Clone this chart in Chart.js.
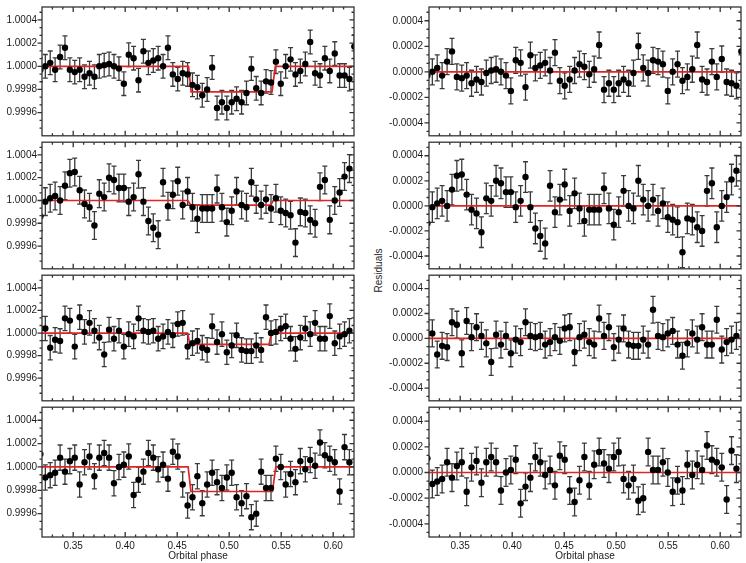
<!DOCTYPE html>
<html>
<head>
<meta charset="utf-8">
<script src="https://cdn.jsdelivr.net/npm/chart.js@4.4.1/dist/chart.umd.min.js"></script>
<style>
  body { margin: 0; background: #fff; }
  #page { position: relative; width: 746px; height: 563px; overflow: hidden; background: #fff; }
  #page canvas { position: absolute; }
  #resid {
    position: absolute; left: 338px; top: 265px; width: 80px; text-align: center;
    transform: rotate(-90deg); transform-origin: 50% 50%;
    font: 10px "Liberation Sans", Arial, Helvetica, sans-serif; color: #222;
  }
</style>
</head>
<body>
<div id="page">
  <div id="resid">Residuals</div>
</div>
<script>
// orbital phase of each exposure (first and last ones sit on the plot edges)
const phase = [0.3185, 0.3232, 0.3279, 0.3326, 0.3374, 0.3421, 0.3468, 0.3515, 0.3562, 0.3609,
  0.3657, 0.3704, 0.3751, 0.3798, 0.3845, 0.3892, 0.3940, 0.3987, 0.4034, 0.4081,
  0.4128, 0.4175, 0.4223, 0.4270, 0.4317, 0.4364, 0.4411, 0.4458, 0.4505, 0.4553,
  0.4600, 0.4647, 0.4694, 0.4741, 0.4788, 0.4836, 0.4883, 0.4930, 0.4977, 0.5024,
  0.5071, 0.5119, 0.5166, 0.5213, 0.5260, 0.5307, 0.5354, 0.5402, 0.5449, 0.5496,
  0.5543, 0.5590, 0.5637, 0.5684, 0.5732, 0.5779, 0.5826, 0.5873, 0.5920, 0.5967,
  0.6015, 0.6062, 0.6109, 0.6156, 0.6203]

// normalised flux, one list per channel (rows top to bottom)
const flux1 = [0.99997, 1.00000, 1.00003, 0.99997, 1.00008, 1.00016, 0.99997, 0.99995, 0.99997, 0.99991,
  0.99994, 0.99991, 1.00000, 1.00001, 1.00002, 1.00000, 0.99998, 0.99985, 1.00010, 1.00007,
  0.99988, 1.00013, 1.00003, 1.00005, 1.00007, 1.00000, 1.00016, 0.99993, 0.99989, 0.99994,
  0.99993, 0.99984, 0.99982, 0.99975, 0.99980, 0.99999, 0.99964, 0.99969, 0.99964, 0.99969,
  0.99972, 0.99969, 0.99977, 0.99998, 0.99981, 0.99977, 0.99987, 0.99986, 1.00004, 0.99985,
  1.00000, 1.00006, 0.99993, 0.99996, 1.00002, 1.00021, 0.99994, 0.99992, 1.00007, 0.99996,
  1.00011, 0.99992, 0.99992, 0.99989, 1.00017]
const flux2 = [0.99986, 0.99999, 1.00002, 1.00004, 1.00000, 1.00013, 1.00024, 1.00025, 1.00009, 0.99997,
  0.99994, 0.99978, 1.00006, 1.00003, 1.00020, 1.00018, 1.00011, 1.00011, 0.99999, 1.00003,
  1.00023, 0.99999, 0.99982, 0.99976, 0.99970, 1.00016, 0.99995, 1.00005, 1.00017, 0.99996,
  1.00008, 0.99994, 0.99984, 0.99993, 0.99993, 0.99993, 1.00010, 0.99994, 0.99981, 0.99991,
  1.00008, 0.99996, 0.99994, 1.00016, 1.00001, 0.99996, 1.00001, 0.99993, 1.00002, 0.99991,
  0.99989, 0.99987, 0.99963, 0.99990, 0.99989, 0.99983, 0.99980, 1.00012, 1.00018, 0.99983,
  1.00000, 1.00007, 1.00021, 1.00028]
const flux3 = [1.00004, 1.00004, 0.99987, 0.99994, 0.99993, 1.00013, 1.00011, 0.99988, 1.00014, 1.00001,
  1.00009, 1.00002, 0.99996, 0.99981, 1.00003, 0.99995, 1.00002, 0.99988, 0.99999, 0.99997,
  1.00013, 1.00002, 1.00001, 1.00002, 0.99995, 0.99997, 1.00001, 0.99998, 1.00008, 1.00009,
  0.99988, 0.99991, 0.99993, 0.99987, 0.99985, 1.00006, 0.99992, 0.99999, 0.99983, 0.99989,
  0.99998, 0.99985, 0.99984, 0.99984, 0.99989, 0.99985, 1.00014, 1.00000, 1.00001, 1.00004,
  1.00006, 0.99995, 0.99986, 0.99996, 1.00004, 0.99999, 1.00009, 0.99995, 0.99995, 1.00015,
  0.99991, 0.99997, 0.99999, 1.00002]
const flux4 = [1.00011, 0.99991, 0.99993, 0.99995, 1.00008, 0.99996, 1.00005, 1.00008, 0.99985, 1.00004,
  1.00009, 0.99992, 1.00008, 1.00012, 1.00008, 0.99986, 1.00000, 1.00002, 1.00009, 0.99976,
  0.99989, 0.99996, 1.00012, 1.00008, 0.99998, 1.00002, 0.99990, 1.00013, 1.00009, 0.99985,
  0.99967, 0.99974, 0.99992, 0.99969, 0.99985, 0.99995, 0.99987, 0.99982, 0.99991, 0.99995,
  0.99974, 0.99969, 0.99975, 0.99957, 0.99960, 0.99996, 0.99982, 0.99982, 1.00007, 1.00000,
  0.99985, 0.99994, 0.99987, 1.00005, 0.99998, 1.00006, 1.00001, 1.00021, 1.00010, 1.00007,
  1.00004, 0.99979, 1.00017, 1.00004]

// residuals after removing the eclipse model
const resid1 = [-0.00003, 0.00000, 0.00003, -0.00003, 0.00008, 0.00016, -0.00004, -0.00005, -0.00003, -0.00009,
  -0.00006, -0.00008, -0.00001, 0.00001, 0.00002, 0.00000, -0.00003, -0.00015, 0.00009, 0.00007,
  -0.00012, 0.00013, 0.00003, 0.00005, 0.00007, 0.00001, 0.00015, -0.00007, -0.00011, -0.00006,
  0.00001, 0.00006, 0.00004, -0.00002, 0.00002, 0.00021, -0.00014, -0.00009, -0.00014, -0.00009,
  -0.00006, -0.00009, -0.00001, 0.00020, 0.00003, -0.00001, 0.00009, 0.00008, 0.00006, -0.00015,
  0.00000, 0.00006, -0.00007, -0.00004, 0.00002, 0.00021, -0.00006, -0.00008, 0.00008, -0.00004,
  0.00010, -0.00008, -0.00009, -0.00011, 0.00016]
const resid2 = [-0.00014, -0.00001, 0.00002, 0.00004, 0.00000, 0.00013, 0.00024, 0.00025, 0.00009, -0.00003,
  -0.00006, -0.00021, 0.00006, 0.00004, 0.00020, 0.00018, 0.00011, 0.00011, -0.00001, 0.00004,
  0.00023, -0.00001, -0.00018, -0.00024, -0.00030, 0.00016, -0.00005, 0.00005, 0.00017, -0.00004,
  0.00010, -0.00002, -0.00012, -0.00003, -0.00003, -0.00003, 0.00014, -0.00002, -0.00015, -0.00005,
  0.00012, 0.00000, -0.00002, 0.00020, 0.00005, 0.00000, 0.00005, -0.00004, 0.00002, -0.00009,
  -0.00011, -0.00013, -0.00037, -0.00010, -0.00011, -0.00017, -0.00020, 0.00012, 0.00018, -0.00017,
  0.00000, 0.00007, 0.00021, 0.00028]
const resid3 = [0.00004, 0.00004, -0.00013, -0.00006, -0.00007, 0.00013, 0.00011, -0.00012, 0.00014, 0.00001,
  0.00009, 0.00002, -0.00004, -0.00019, 0.00003, -0.00005, 0.00002, -0.00012, -0.00001, -0.00003,
  0.00013, 0.00002, 0.00001, 0.00002, -0.00005, -0.00003, 0.00001, -0.00002, 0.00008, 0.00009,
  -0.00011, 0.00001, 0.00003, -0.00003, -0.00005, 0.00016, 0.00002, 0.00009, -0.00007, -0.00001,
  0.00008, -0.00005, -0.00006, -0.00006, -0.00001, -0.00005, 0.00023, 0.00002, 0.00001, 0.00004,
  0.00006, -0.00005, -0.00014, -0.00004, 0.00004, -0.00001, 0.00009, -0.00005, -0.00005, 0.00015,
  -0.00009, -0.00003, -0.00001, 0.00002]
const resid4 = [0.00011, -0.00009, -0.00007, -0.00005, 0.00008, -0.00004, 0.00005, 0.00008, -0.00015, 0.00004,
  0.00009, -0.00008, 0.00008, 0.00012, 0.00008, -0.00014, 0.00000, 0.00002, 0.00010, -0.00024,
  -0.00011, -0.00004, 0.00012, 0.00008, -0.00002, 0.00002, -0.00010, 0.00013, 0.00010, -0.00014,
  -0.00023, -0.00006, 0.00012, -0.00010, 0.00006, 0.00016, 0.00007, 0.00003, 0.00012, 0.00016,
  -0.00005, -0.00010, -0.00005, -0.00022, -0.00020, 0.00016, 0.00002, 0.00002, 0.00008, 0.00000,
  -0.00015, -0.00006, -0.00014, 0.00006, -0.00002, 0.00006, 0.00002, 0.00021, 0.00010, 0.00008,
  0.00004, -0.00021, 0.00017, 0.00003]

// one sigma flux error per channel
const fluxErr = [0.000102, 0.000122, 0.000108, 0.000108]

// eclipse model corners (phase, flux)
const eclipsePhase1 = [0.32, 0.4609, 0.4634, 0.5412, 0.5443, 0.62]
const eclipseFlux1 = [1, 1, 0.99978, 0.99978, 1, 1]
const eclipsePhase2 = [0.32, 0.4603, 0.4630, 0.5398, 0.5424, 0.62]
const eclipseFlux2 = [1, 1, 0.99996, 0.99996, 1, 1]
const eclipsePhase3 = [0.32, 0.4600, 0.4622, 0.5383, 0.5406, 0.62]
const eclipseFlux3 = [1, 1, 0.9999, 0.9999, 1, 1]
const eclipsePhase4 = [0.32, 0.4605, 0.4632, 0.5416, 0.5448, 0.62]
const eclipseFlux4 = [1, 1, 0.99979, 0.99979, 1, 1]
const zeroPhase = [0.32, 0.62]
const zeroLine = [0, 0]

// axis ticks
const phaseTicks = [0.35, 0.40, 0.45, 0.50, 0.55, 0.60]
const fluxTicks = [0.9996, 0.9998, 1.0000, 1.0002, 1.0004]
const residTicks = [-0.0004, -0.0002, 0.0000, 0.0002, 0.0004]

const red = 'rgb(226,36,36)'
const ink = '#333'
const fontFamily = '"Liberation Sans", Arial, Helvetica, sans-serif'

// page layout
const rowTop = [0, 139, 272, 404]
const rowHeight = [139, 133, 132, 159]
const rowPadTop = [7, 0, 0, 0]
const columns = [
  {left: 0, width: 360, axisWidth: 42, padRight: 6, labelPad: 5, min: 0.9994, max: 1.000512, ticks: fluxTicks},
  {left: 360, width: 386, axisWidth: 69, padRight: 5, labelPad: 6, min: -0.000502, max: 0.000508, ticks: residTicks}
]

function pairs(xs, ys) {
  return ys.map((v, i) => ({x: xs[i], y: v}))
}

function minorValues(major, parts, min, max) {
  const step = (major[1] - major[0]) / parts
  const out = []
  for (let v = major[0] - step; v > min + step * 0.01; v -= step) out.push(v)
  for (const m of major) {
    for (let k = 1; k < parts; k++) {
      const v = m + k * step
      if (v < max - step * 0.01) out.push(v)
    }
  }
  return out
}

function noPadding(s) {
  s.paddingTop = 0
  s.paddingBottom = 0
  s.paddingLeft = 0
  s.paddingRight = 0
}

// error bars under the points; box with ticks on top
const idlFrame = {
  id: 'idlFrame',
  beforeDatasetsDraw(chart) {
    const {ctx, chartArea: a, scales: {x, y}} = chart
    const ds = chart.data.datasets[0]
    const e = ds.errorBar
    ctx.save()
    ctx.beginPath()
    ctx.rect(a.left, a.top, a.right - a.left, a.bottom - a.top)
    ctx.clip()
    ctx.strokeStyle = '#3a3a3a'
    ctx.lineWidth = 1.3
    ctx.beginPath()
    for (const p of ds.data) {
      const px = x.getPixelForValue(p.x)
      const lo = y.getPixelForValue(p.y - e)
      const hi = y.getPixelForValue(p.y + e)
      ctx.moveTo(px, lo); ctx.lineTo(px, hi)
      ctx.moveTo(px - 2.5, lo); ctx.lineTo(px + 2.5, lo)
      ctx.moveTo(px - 2.5, hi); ctx.lineTo(px + 2.5, hi)
    }
    ctx.stroke()
    ctx.restore()
  },
  afterDraw(chart, args, opts) {
    const {ctx, chartArea: a, scales: {x, y}} = chart
    ctx.save()
    ctx.strokeStyle = ink
    ctx.lineWidth = 1.3
    ctx.strokeRect(a.left, a.top, a.right - a.left, a.bottom - a.top)
    ctx.beginPath()
    const xTick = (v, len) => {
      const px = x.getPixelForValue(v)
      ctx.moveTo(px, a.bottom); ctx.lineTo(px, a.bottom - len)
      ctx.moveTo(px, a.top); ctx.lineTo(px, a.top + len)
    }
    // left ticks stick out towards the labels, right ones point inside
    const yTick = (v, len) => {
      const py = y.getPixelForValue(v)
      ctx.moveTo(a.left, py); ctx.lineTo(a.left - len, py)
      ctx.moveTo(a.right, py); ctx.lineTo(a.right - len, py)
    }
    opts.xMajor.forEach(v => xTick(v, 5))
    minorValues(opts.xMajor, 5, x.min, x.max).forEach(v => xTick(v, 2.5))
    opts.yMajor.forEach(v => yTick(v, 4.5))
    minorValues(opts.yMajor, 3, y.min, y.max).forEach(v => yTick(v, 2.5))
    ctx.stroke()
    ctx.restore()
  }
}

const panels = [
  {col: 0, row: 0, values: flux1, lx: eclipsePhase1, ly: eclipseFlux1},
  {col: 0, row: 1, values: flux2, lx: eclipsePhase2, ly: eclipseFlux2},
  {col: 0, row: 2, values: flux3, lx: eclipsePhase3, ly: eclipseFlux3},
  {col: 0, row: 3, values: flux4, lx: eclipsePhase4, ly: eclipseFlux4},
  {col: 1, row: 0, values: resid1, lx: zeroPhase, ly: zeroLine},
  {col: 1, row: 1, values: resid2, lx: zeroPhase, ly: zeroLine},
  {col: 1, row: 2, values: resid3, lx: zeroPhase, ly: zeroLine},
  {col: 1, row: 3, values: resid4, lx: zeroPhase, ly: zeroLine}
]

const page = document.getElementById('page')

for (const p of panels) {
  const col = columns[p.col]
  const bottomRow = p.row === 3
  const canvas = document.createElement('canvas')
  canvas.width = col.width
  canvas.height = rowHeight[p.row]
  canvas.style.left = col.left + 'px'
  canvas.style.top = rowTop[p.row] + 'px'
  page.appendChild(canvas)

  new Chart(canvas, {
    type: 'scatter',
    data: {
      datasets: [
        {
          data: pairs(phase, p.values),
          errorBar: fluxErr[p.row],
          pointRadius: 3.2,
          pointHoverRadius: 3.2,
          backgroundColor: '#000',
          borderWidth: 0,
          clip: 0,
          order: 0
        },
        {
          type: 'line',
          data: pairs(p.lx, p.ly),
          borderColor: red,
          borderWidth: 1.7,
          pointRadius: 0,
          tension: 0,
          fill: false,
          clip: 0,
          order: 1
        }
      ]
    },
    options: {
      responsive: false,
      animation: false,
      events: [],
      layout: {padding: {left: 0, right: col.padRight, top: rowPadTop[p.row], bottom: 0}},
      plugins: {
        legend: {display: false},
        tooltip: {enabled: false},
        idlFrame: {xMajor: phaseTicks, yMajor: col.ticks}
      },
      scales: {
        x: {
          type: 'linear',
          min: 0.32,
          max: 0.62,
          bounds: 'data',
          display: bottomRow,
          grid: {display: false, drawTicks: false},
          border: {display: false},
          afterBuildTicks: s => { s.ticks = phaseTicks.map(v => ({value: v})) },
          afterFit: s => { s.height = bottomRow ? 26 : 0; noPadding(s) },
          ticks: {
            padding: 3,
            color: '#1a1a1a',
            font: {family: fontFamily, size: 10},
            maxRotation: 0,
            callback: v => v.toFixed(2)
          },
          title: {
            display: true,
            text: 'Orbital phase',
            color: '#1a1a1a',
            font: {family: fontFamily, size: 10},
            padding: {top: 0, bottom: 1}
          }
        },
        y: {
          type: 'linear',
          min: col.min,
          max: col.max,
          bounds: 'data',
          grid: {display: false, drawTicks: false},
          border: {display: false},
          afterBuildTicks: s => { s.ticks = col.ticks.map(v => ({value: v})) },
          afterFit: s => { s.width = col.axisWidth; noPadding(s) },
          ticks: {
            padding: col.labelPad,
            color: '#1a1a1a',
            font: {family: fontFamily, size: 10},
            callback: v => v.toFixed(4)
          }
        }
      }
    },
    plugins: [idlFrame]
  })
}
</script>
</body>
</html>
